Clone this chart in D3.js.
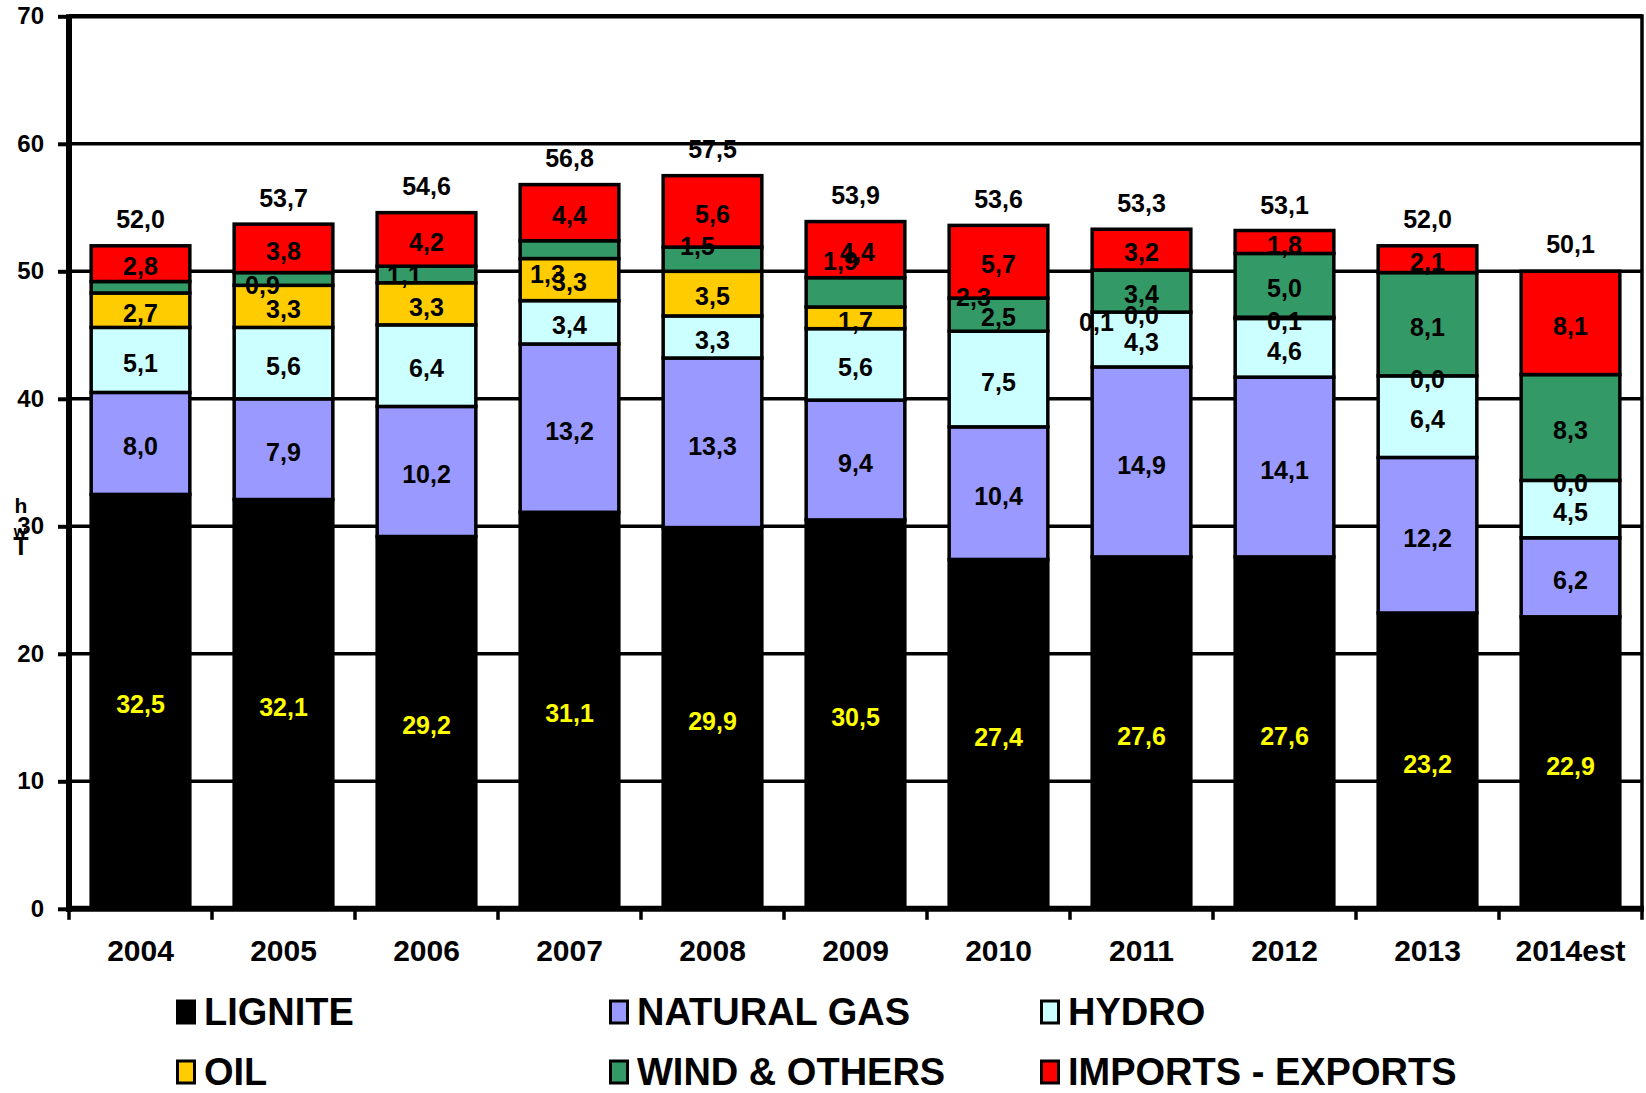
<!DOCTYPE html>
<html>
<head>
<meta charset="utf-8">
<script src="https://cdn.jsdelivr.net/npm/d3@7"></script>
<style>
  html, body { margin: 0; padding: 0; background: #fff; }
  text { font-family: "Liberation Sans", Arial, sans-serif; font-weight: bold; }
</style>
</head>
<body>
<script>
// ---------------- DATA ----------------
const years   = ['2004','2005','2006','2007','2008','2009','2010','2011','2012','2013','2014est'];
const lignite = [32.5, 32.1, 29.2, 31.1, 29.9, 30.5, 27.4, 27.6, 27.6, 23.2, 22.9];
const natGas  = [8.0, 7.9, 10.2, 13.2, 13.3, 9.4, 10.4, 14.9, 14.1, 12.2, 6.2];
const hydro   = [5.1, 5.6, 6.4, 3.4, 3.3, 5.6, 7.5, 4.3, 4.6, 6.4, 4.5];
const oil     = [2.7, 3.3, 3.3, 3.3, 3.5, 1.7, 0.0, 0.0, 0.1, 0.0, 0.0];
const wind    = [0.9, 1.0, 1.3, 1.4, 1.9, 2.3, 2.6, 3.3, 5.0, 8.1, 8.3];
const imports = [2.8, 3.8, 4.2, 4.4, 5.6, 4.4, 5.7, 3.2, 1.8, 2.1, 8.1];
const totals  = [52.0, 53.7, 54.6, 56.8, 57.5, 53.9, 53.6, 53.3, 53.1, 52.0, 50.1];
// data-label texts as printed on the chart (null = not shown)
const windLabels = [null, 0.9, 1.1, 1.3, 1.5, 1.9, 2.5, 3.4, 5.0, 8.1, 8.3];
const oilLabels  = [2.7, 3.3, 3.3, 3.3, 3.5, 1.7, null, 0.0, 0.1, 0.0, 0.0];
// extra stray labels printed on the chart
const strayYears  = ['2010', '2011'];
const strayValues = [2.3, 0.1];
const yTicks = [0, 10, 20, 30, 40, 50, 60, 70];

const seriesNames = ['LIGNITE','NATURAL GAS','HYDRO','OIL','WIND & OTHERS','IMPORTS - EXPORTS'];
const seriesKeys  = ['lignite','gas','hydro','oil','wind','imports'];

// ---------------- STYLE / LAYOUT ----------------
const colors = {lignite:'#000000', gas:'#9999FF', hydro:'#CCFFFF', oil:'#FFCC00', wind:'#339966', imports:'#FF0000'};
const W = 1646, H = 1093;
const X0 = 69, X1 = 1642, YBOT = 908.8, YTOP = 16.3;
const labelNudges = { wind: {'2005':[-21,3.5], '2006':[-22,-2], '2007':[-22,22], '2008':[-15,-15.5], '2009':[-15,-34]},
                      imports: {'2009':[2,0]} };
const strayPlacement = [{anchor:'imports', dx:-25, dy:-1}, {anchor:'wind', dx:-45, dy:10}];
const legendCols = [176, 609, 1040];
const legendRows = [1012, 1072];

const fmt = v => d3.format('.1f')(v).replace('.', ',');

// build table
const labelArrays = {lignite, gas: natGas, hydro, oil: oilLabels, wind: windLabels, imports};
const rows = years.map((yr, i) => ({
  year: yr, lignite: lignite[i], gas: natGas[i], hydro: hydro[i], oil: oil[i], wind: wind[i], imports: imports[i]
}));
const stacked = d3.stack().keys(seriesKeys)(rows);

const svg = d3.select('body').append('svg').attr('width', W).attr('height', H);

const x = d3.scaleBand().domain(years).range([X0, X1]).paddingInner(0.31).paddingOuter(0.155);
const y = d3.scaleLinear().domain([0, 70]).range([YBOT, YTOP]);

// gridlines
svg.append('g').selectAll('line').data(yTicks.filter(d => d > 0)).join('line')
  .attr('x1', X0).attr('x2', X1).attr('y1', d => y(d)).attr('y2', d => y(d))
  .attr('stroke', '#000').attr('stroke-width', d => d === 70 ? 4.5 : 3.5);

// right frame line
svg.append('line').attr('x1', X1).attr('x2', X1).attr('y1', y(70) - 2).attr('y2', y(0))
  .attr('stroke', '#000').attr('stroke-width', 3.5);

// bars
const gBars = svg.append('g');
stacked.forEach(layer => {
  gBars.append('g').selectAll('rect').data(layer).join('rect')
    .attr('x', d => x(d.data.year))
    .attr('width', x.bandwidth())
    .attr('y', d => y(d[1]))
    .attr('height', d => Math.max(0, y(d[0]) - y(d[1])))
    .attr('fill', colors[layer.key])
    .attr('stroke', '#000')
    .attr('stroke-width', 3.5);
});

// y axis
const yAxis = d3.axisLeft(y).tickValues(yTicks).tickSize(11).tickPadding(14).tickFormat(d3.format('d'));
const gy = svg.append('g').attr('transform', `translate(${X0},0)`).call(yAxis);
gy.select('.domain').attr('stroke-width', 6).attr('d', `M0,${y(70)-2}V${y(0)+3}`);
gy.selectAll('.tick line').attr('stroke-width', 4);
gy.selectAll('.tick text').attr('font-size', 24).attr('fill', '#000')
  .attr('font-family', '"Liberation Sans", Arial, sans-serif').attr('font-weight', 'bold');

// x axis
const xAxis = d3.axisBottom(x).tickSize(0).tickPadding(31);
const gx = svg.append('g').attr('transform', `translate(0,${y(0)})`).call(xAxis);
gx.select('.domain').remove();
gx.selectAll('.tick text').attr('font-size', 30).attr('fill', '#000')
  .attr('font-family', '"Liberation Sans", Arial, sans-serif').attr('font-weight', 'bold');
svg.append('line').attr('x1', X0 - 3).attr('x2', X1 + 2).attr('y1', y(0)).attr('y2', y(0))
  .attr('stroke', '#000').attr('stroke-width', 6);
const boundaries = d3.range(years.length + 1).map(i => X0 + i * x.step());
svg.append('g').selectAll('line').data(boundaries).join('line')
  .attr('x1', d => d).attr('x2', d => d).attr('y1', y(0)).attr('y2', y(0) + 11)
  .attr('stroke', '#000').attr('stroke-width', 3.5);

// segment labels
const gLab = svg.append('g');
stacked.forEach(layer => {
  const key = layer.key;
  const texts = labelArrays[key];
  layer.forEach((d, i) => {
    const v = texts[i];
    if (v === null || v === undefined) return;
    const n = (labelNudges[key] && labelNudges[key][d.data.year]) || [0, 0];
    gLab.append('text')
      .attr('x', x(d.data.year) + x.bandwidth() / 2 + n[0])
      .attr('y', y((d[0] + d[1]) / 2) + 3 + n[1])
      .attr('dy', '0.35em')
      .attr('text-anchor', 'middle')
      .attr('font-size', 25)
      .attr('fill', key === 'lignite' ? '#FFFF00' : '#000')
      .text(fmt(v));
  });
});

// stray labels
strayYears.forEach((yr, k) => {
  const p = strayPlacement[k];
  const layer = stacked.find(l => l.key === p.anchor);
  const d = layer[years.indexOf(yr)];
  gLab.append('text')
    .attr('x', x(yr) + x.bandwidth() / 2 + p.dx)
    .attr('y', y(d[0]) + p.dy)
    .attr('dy', '0.35em')
    .attr('text-anchor', 'middle')
    .attr('font-size', 25)
    .attr('fill', '#000')
    .text(fmt(strayValues[k]));
});

// totals
svg.append('g').selectAll('text').data(years).join('text')
  .attr('x', d => x(d) + x.bandwidth() / 2)
  .attr('y', (d, i) => y(totals[i]) - 17.5)
  .attr('text-anchor', 'middle')
  .attr('font-size', 25)
  .attr('fill', '#000')
  .text((d, i) => fmt(totals[i]));

// axis unit (stacked letters)
const unit = svg.append('g');
unit.append('text').attr('x', 21).attr('y', 513).attr('text-anchor', 'middle').attr('font-size', 21).text('h');
unit.append('text').attr('x', 20).attr('y', 537).attr('text-anchor', 'middle').attr('font-size', 16).text('w');
unit.append('text').attr('x', 21).attr('y', 555).attr('text-anchor', 'middle').attr('font-size', 25).text('T');

// legend
const legend = svg.append('g');
seriesKeys.forEach((key, i) => {
  const col = i % 3, row = Math.floor(i / 3);
  const lx = legendCols[col], ly = legendRows[row];
  legend.append('rect').attr('x', lx + 1.5).attr('y', ly - 11).attr('width', 17).attr('height', 22)
    .attr('fill', colors[key]).attr('stroke', '#000').attr('stroke-width', 3);
  legend.append('text').attr('x', lx + 28).attr('y', ly + 13)
    .attr('font-size', 38).attr('fill', '#000').text(seriesNames[i]);
});
</script>
</body>
</html>
